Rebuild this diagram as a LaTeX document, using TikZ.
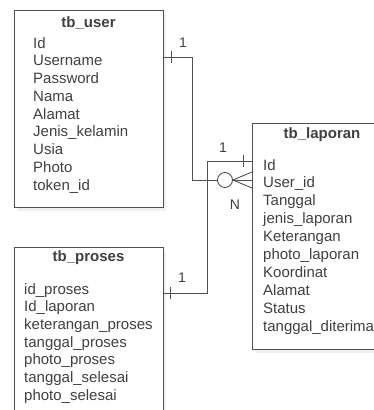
\documentclass[tikz,border=0pt]{standalone}
\usepackage{fontspec}
\setmainfont{Liberation Sans}
\usetikzlibrary{shadows}
\definecolor{txtgray}{HTML}{404040}
\definecolor{linegray}{HTML}{505050}

\begin{document}
\begin{tikzpicture}[x=1pt,y=-1pt,
  tbl/.style={draw=linegray, line width=1pt, fill=white, anchor=north west, inner sep=0pt,
    drop shadow={opacity=0.12, shadow xshift=2pt, shadow yshift=-3pt}},
  ttl/.style={font=\fontsize{15}{18}\selectfont\bfseries, text=txtgray},
  fld/.style={font=\fontsize{15}{18}\selectfont, text=txtgray, anchor=base west, inner sep=0pt},
  card/.style={font=\fontsize{14}{16}\selectfont, text=txtgray},
  rel/.style={draw=linegray, line width=0.9pt}]
\useasboundingbox (0,0) rectangle (374,410);

% tables
\node[tbl, minimum width=149pt, minimum height=197pt] (user) at (14,10) {};
\node[ttl] (userT) at (88.5,23) {tb\_user};
\foreach \f [count=\i] in {Id,Username,Password,Nama,Alamat,Jenis\_kelamin,Usia,Photo,token\_id}
  \node[fld] (user-\i) at (33,{48+(\i-1)*17.75}) {\f};

\node[tbl, minimum width=130pt, minimum height=226pt] (lap) at (252,123) {};
\node[ttl] (lapT) at (322,135) {tb\_laporan};
\foreach \f [count=\i] in {Id,User\_id,Tanggal,jenis\_laporan,Keterangan,photo\_laporan,Koordinat,Alamat,Status,tanggal\_diterima}
  \node[fld] (lap-\i) at (263,{170+(\i-1)*17.9}) {\f};

\node[tbl, minimum width=149pt, minimum height=175pt] (proses) at (14,247) {};
\node[ttl] (prosesT) at (88.5,258) {tb\_proses};
\foreach \f [count=\i] in {id\_proses,Id\_laporan,keterangan\_proses,tanggal\_proses,photo\_proses,tanggal\_selesai,photo\_selesai}
  \node[fld] (proses-\i) at (24,{294+(\i-1)*17.67}) {\f};

% user 1 -- N laporan
\node[draw=linegray, fill=white, circle, minimum size=15pt, inner sep=0pt, line width=0.9pt] (opt) at (225,180) {};
\draw[rel] (user.east |- 0,57) -| (192,180) -- (opt.west);
\draw[rel] (opt.east) -- (lap.west |- 0,180);
\draw[rel] (opt.east) -- (lap.west |- 0,172);
\draw[rel] (opt.east) -- (lap.west |- 0,188);
\draw[rel] (171,51) -- (171,63);
\node[card] (c1) at (183,43) {1};
\node[card] (cN) at (235,205) {N};

% proses 1 -- 1 laporan
\draw[rel] (proses.east |- 0,293) -| (207,161) -- (lap.west |- 0,161);
\draw[rel] (170,287) -- (170,299);
\draw[rel] (243,155) -- (243,167);
\node[card] (c2) at (223,148) {1};
\node[card] (c3) at (182,278) {1};
\end{tikzpicture}
\end{document}
